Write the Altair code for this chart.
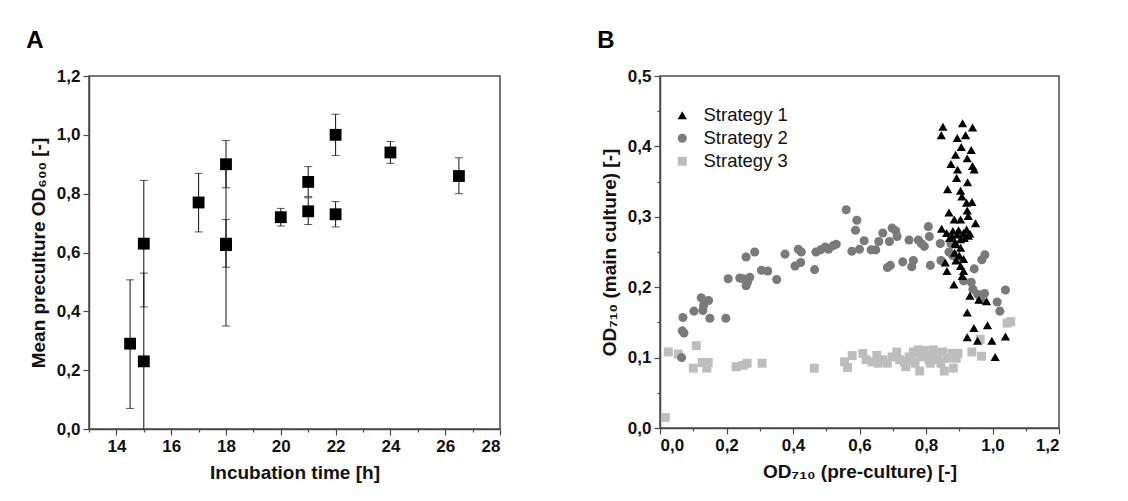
import altair as alt
import pandas as pd

FONT = "Liberation Sans"

# ---------------- Panel A data ----------------
a_time = [14.5, 15, 15, 17, 18, 18, 18, 20, 21, 21, 22, 22, 24, 26.5]
a_mean = [0.29, 0.23, 0.63, 0.77, 0.90, 0.625, 0.63, 0.72, 0.74, 0.84, 1.00, 0.73, 0.94, 0.86]
a_low = [0.07, -0.07, 0.415, 0.67, 0.82, 0.35, 0.55, 0.69, 0.695, 0.79, 0.93, 0.687, 0.903, 0.80]
a_high = [0.507, 0.53, 0.845, 0.869, 0.981, 0.90, 0.712, 0.75, 0.786, 0.892, 1.07, 0.773, 0.977, 0.922]

# ---------------- Panel B data ----------------
s1_x = [0.851, 0.846, 0.91, 0.94, 0.894, 0.919, 0.906, 0.889, 0.936, 0.924, 0.875, 0.895, 0.94, 0.945,
        0.892, 0.925, 0.865, 0.904, 0.908, 0.922, 0.938, 0.924, 0.869, 0.885, 0.904, 0.927, 0.949,
        0.847, 0.862, 0.881, 0.894, 0.913, 0.927, 0.871, 0.904, 0.888, 0.922, 0.878, 0.898, 0.915, 0.932,
        0.89, 0.904, 0.886, 0.9, 0.913, 0.89, 0.858, 0.863, 0.904, 0.913, 0.909, 0.884, 0.932, 0.959,
        0.982, 0.924, 0.944, 0.985, 0.924, 0.955, 0.998, 1.039, 1.008]
s1_y = [0.428, 0.416, 0.433, 0.427, 0.412, 0.416, 0.399, 0.388, 0.395, 0.383, 0.375, 0.367, 0.372, 0.367,
        0.355, 0.349, 0.339, 0.337, 0.329, 0.32, 0.321, 0.309, 0.306, 0.296, 0.296, 0.301, 0.291,
        0.283, 0.277, 0.28, 0.275, 0.277, 0.273, 0.27, 0.268, 0.263, 0.282, 0.272, 0.281, 0.27, 0.276,
        0.261, 0.256, 0.249, 0.245, 0.24, 0.238, 0.235, 0.223, 0.23, 0.223, 0.216, 0.204, 0.188, 0.182,
        0.18, 0.164, 0.142, 0.146, 0.129, 0.124, 0.124, 0.13, 0.101]

s2_x = [0.069, 0.067, 0.072, 0.065, 0.102, 0.124, 0.131, 0.129, 0.146, 0.15, 0.198, 0.205, 0.24, 0.25,
        0.263, 0.259, 0.27, 0.259, 0.285, 0.305, 0.324, 0.351,
        0.376, 0.406, 0.423, 0.416, 0.425, 0.465, 0.469, 0.483, 0.497, 0.507, 0.521, 0.53,
        0.56, 0.592, 0.588, 0.614, 0.577, 0.6, 0.635, 0.649, 0.658, 0.67, 0.698, 0.709, 0.713, 0.69,
        0.749, 0.777, 0.786, 0.795, 0.807, 0.81, 0.843, 0.869, 0.813, 0.845, 0.762, 0.757, 0.73, 0.693,
        0.684, 0.968, 0.977, 0.913, 0.936, 0.941, 0.955, 0.976, 0.964, 1.014, 1.022, 1.039, 0.895,
        0.945, 0.875, 0.88]
s2_y = [0.157, 0.138, 0.135, 0.10, 0.166, 0.185, 0.174, 0.167, 0.181, 0.156, 0.156, 0.212, 0.213, 0.212,
        0.207, 0.202, 0.214, 0.243, 0.25, 0.224, 0.223, 0.211,
        0.247, 0.23, 0.235, 0.254, 0.25, 0.225, 0.25, 0.253, 0.257, 0.254, 0.259, 0.261,
        0.31, 0.295, 0.281, 0.266, 0.251, 0.254, 0.253, 0.253, 0.265, 0.277, 0.284, 0.28, 0.272, 0.265,
        0.267, 0.267, 0.262, 0.258, 0.286, 0.272, 0.262, 0.25, 0.231, 0.238, 0.238, 0.229, 0.236, 0.231,
        0.228, 0.239, 0.246, 0.209, 0.207, 0.197, 0.19, 0.191, 0.183, 0.179, 0.166, 0.196, 0.24,
        0.226, 0.262, 0.245]

s3_x = [0.016, 0.025, 0.055, 0.109, 0.1, 0.127, 0.145, 0.141, 0.229, 0.25, 0.262, 0.307, 0.464, 0.555,
        0.564, 0.578, 0.61, 0.62, 0.638, 0.656, 0.652, 0.670, 0.684, 0.698, 0.712, 0.721, 0.735, 0.749,
        0.762, 0.767, 0.781, 0.785, 0.795, 0.804, 0.813, 0.827, 0.836, 0.85, 0.855, 0.864, 0.878, 0.882,
        0.891, 0.896, 0.776, 0.822, 0.739, 0.758, 0.809, 0.845, 0.938, 0.967, 0.963, 1.044, 1.055]
s3_y = [0.015, 0.108, 0.105, 0.117, 0.085, 0.093, 0.093, 0.085, 0.087, 0.089, 0.092, 0.092, 0.085, 0.094,
        0.086, 0.103, 0.106, 0.097, 0.094, 0.092, 0.103, 0.097, 0.092, 0.101, 0.108, 0.097, 0.094, 0.101,
        0.108, 0.092, 0.081, 0.101, 0.11, 0.103, 0.092, 0.106, 0.097, 0.108, 0.081, 0.099, 0.106, 0.085,
        0.099, 0.106, 0.111, 0.111, 0.087, 0.097, 0.097, 0.092, 0.108, 0.102, 0.126, 0.149, 0.151]

strategies = ["Strategy 1", "Strategy 2", "Strategy 3"]
colors = ["#000000", "#7a7a7a", "#bdbdbd"]
shapes = ["triangle-up", "circle", "square"]
sizes = [85, 80, 62]

df_a = pd.DataFrame({"time": a_time, "mean": a_mean, "low": a_low, "high": a_high})

rows = []
for name, xs, ys in [(strategies[2], s3_x, s3_y), (strategies[1], s2_x, s2_y), (strategies[0], s1_x, s1_y)]:
    for xv, yv in zip(xs, ys):
        rows.append({"pre": xv, "main": yv, "strategy": name})
df_b = pd.DataFrame(rows)

DOM = "#4a4a4a"


def comma_expr(test_major, fmt):
    return f"({test_major}) ? replace(format(datum.value, '{fmt}'), '.', ',') : ''"


# ---------------- Panel A ----------------
xa = alt.X("time:Q",
           scale=alt.Scale(domain=[13, 28], nice=False, zero=False),
           axis=alt.Axis(title="Incubation time [h]", values=list(range(13, 29)),
                         labelExpr="datum.value % 2 === 0 ? datum.label : ''",
                         tickSize={"condition": {"test": "datum.value % 2 !== 0", "value": 3}, "value": 6}))
ya = alt.Y("mean:Q",
           scale=alt.Scale(domain=[0, 1.2], nice=False),
           axis=alt.Axis(title="Mean preculture OD₆₀₀ [-]",
                         values=[round(i * 0.1, 1) for i in range(13)],
                         labelExpr=comma_expr("round(datum.value*10) % 2 === 0", ".1f"),
                         tickSize={"condition": {"test": "round(datum.value*10) % 2 !== 0", "value": 3}, "value": 6}))

base_a = alt.Chart(df_a)
err = base_a.mark_rule(color="#111111", strokeWidth=1, clip=True).encode(x=xa, y=alt.Y("low:Q"), y2="high:Q")
cap_lo = base_a.mark_tick(orient="horizontal", color="#111111", size=8, thickness=1, clip=True).encode(x=xa, y=alt.Y("low:Q"))
cap_hi = base_a.mark_tick(orient="horizontal", color="#111111", size=8, thickness=1, clip=True).encode(x=xa, y=alt.Y("high:Q"))
pts_a = base_a.mark_point(shape="square", filled=True, color="#000000", opacity=1, size=140).encode(x=xa, y=ya)

chart_a = alt.layer(err, cap_lo, cap_hi, pts_a).properties(
    width=411, height=353,
    title=alt.TitleParams("A", anchor="start", frame="bounds", fontSize=24, fontWeight="bold",
                          font=FONT, color="#000000", offset=14, dx=-3))

# ---------------- Panel B ----------------
xb = alt.X("pre:Q",
           scale=alt.Scale(domain=[0, 1.2], nice=False),
           axis=alt.Axis(title="OD₇₁₀ (pre-culture) [-]",
                         values=[round(i * 0.1, 1) for i in range(13)],
                         labelExpr=comma_expr("round(datum.value*10) % 2 === 0", ".1f"),
                         tickSize={"condition": {"test": "round(datum.value*10) % 2 !== 0", "value": 3}, "value": 6}))
yb = alt.Y("main:Q",
           scale=alt.Scale(domain=[0, 0.5], nice=False),
           axis=alt.Axis(title="OD₇₁₀ (main culture) [-]",
                         values=[round(i * 0.05, 2) for i in range(11)],
                         labelExpr=comma_expr("round(datum.value*100) % 10 === 0", ".1f"),
                         tickSize={"condition": {"test": "round(datum.value*100) % 10 !== 0", "value": 3}, "value": 6}))

leg = dict(title=None, orient="none", legendX=584, legendY=30,
           labelFontSize=18.5, labelFont=FONT, labelFontWeight="normal",
           labelColor="#111111", symbolSize=90, rowPadding=4,
           labelOffset=12, symbolStrokeWidth=0)

chart_b = alt.Chart(df_b).mark_point(filled=True, opacity=1).encode(
    x=xb, y=yb,
    color=alt.Color("strategy:N", scale=alt.Scale(domain=strategies, range=colors),
                    legend=alt.Legend(**leg)),
    shape=alt.Shape("strategy:N", scale=alt.Scale(domain=strategies, range=shapes),
                    legend=alt.Legend(**leg)),
    size=alt.Size("strategy:N", scale=alt.Scale(domain=strategies, range=sizes), legend=None),
    order=alt.Order("idx:Q"),
).transform_calculate(idx="datum.strategy == 'Strategy 3' ? 0 : (datum.strategy == 'Strategy 2' ? 1 : 2)").properties(
    width=399, height=352,
    title=alt.TitleParams("B", anchor="start", frame="bounds", fontSize=24, fontWeight="bold",
                          font=FONT, color="#000000", offset=14, dx=-3))

chart = alt.hconcat(chart_a, chart_b, spacing=94).properties(
    padding={"left": 25, "top": 28, "right": 5, "bottom": 5}
).configure_view(
    stroke=DOM, strokeWidth=1.5
).configure_axis(
    labelFont=FONT, labelFontSize=17, labelFontWeight="bold", labelColor="#111111",
    titleFont=FONT, titleFontSize=19, titleFontWeight="bold", titleColor="#111111",
    domainColor=DOM, domainWidth=1.5, tickColor=DOM, tickWidth=1.2, grid=False,
    labelPadding=3, titlePadding=9
).configure_axisY(titlePadding=8)

chart.save("out.html", embed_options={"renderer": "svg", "actions": False})
